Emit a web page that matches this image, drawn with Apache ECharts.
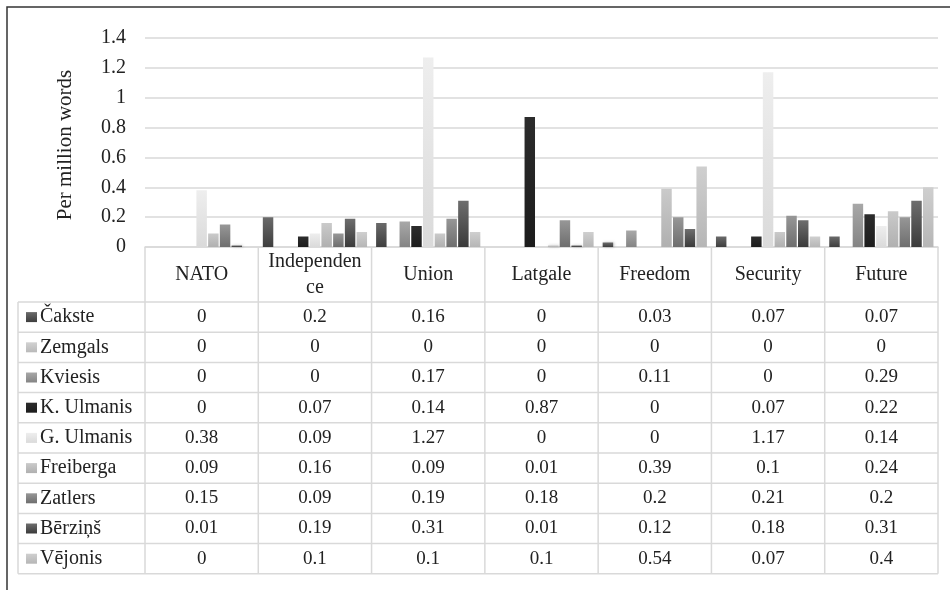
<!DOCTYPE html>
<html>
<head>
<meta charset="utf-8">
<script src="https://cdn.jsdelivr.net/npm/echarts@6/dist/echarts.min.js"></script>
<style>html,body{margin:0;padding:0;background:#fff}#c{width:950px;height:590px}</style>
</head>
<body>
<div id="c"></div>
<script>
const categories = ['NATO','Independence','Union','Latgale','Freedom','Security','Future'];
const headerLabels = ['NATO','Independen\nce','Union','Latgale','Freedom','Security','Future'];
const presidents = ['Čakste','Zemgals','Kviesis','K. Ulmanis','G. Ulmanis','Freiberga','Zatlers','Bērziņš','Vējonis'];
const cakste    = [0, 0.2, 0.16, 0, 0.03, 0.07, 0.07];
const zemgals   = [0, 0, 0, 0, 0, 0, 0];
const kviesis   = [0, 0, 0.17, 0, 0.11, 0, 0.29];
const kUlmanis  = [0, 0.07, 0.14, 0.87, 0, 0.07, 0.22];
const gUlmanis  = [0.38, 0.09, 1.27, 0, 0, 1.17, 0.14];
const freiberga = [0.09, 0.16, 0.09, 0.01, 0.39, 0.1, 0.24];
const zatlers   = [0.15, 0.09, 0.19, 0.18, 0.2, 0.21, 0.2];
const berzins   = [0.01, 0.19, 0.31, 0.01, 0.12, 0.18, 0.31];
const vejonis   = [0, 0.1, 0.1, 0.1, 0.54, 0.07, 0.4];
const seriesData = [cakste, zemgals, kviesis, kUlmanis, gUlmanis, freiberga, zatlers, berzins, vejonis];
const yTicksMax = 1.4, yTickStep = 0.2;

const palette = [
  ['#6a6a6a','#3e3e3e'],
  ['#d2d2d2','#b9b9b9'],
  ['#a8a8a8','#848484'],
  ['#2c2c2c','#1c1c1c'],
  ['#eeeeee','#dadada'],
  ['#cacaca','#b0b0b0'],
  ['#979797','#6e6e6e'],
  ['#6e6e6e','#3a3a3a'],
  ['#cfcfcf','#b6b6b6']
];
function grad(i){
  return new echarts.graphic.LinearGradient(0,0,0,1,[{offset:0,color:palette[i][0]},{offset:1,color:palette[i][1]}]);
}
const FONT = '"Liberation Serif","Times New Roman",serif';
const LINE = '#d9d9d9';

const chart = echarts.init(document.getElementById('c'), null, {renderer:'canvas'});
chart.setOption({
  animation:false,
  backgroundColor:'#fff',
  grid:{left:145, right:12, top:38, bottom:343, containLabel:false},
  xAxis:{type:'category', data:categories, axisLabel:{show:false}, axisTick:{show:false},
    axisLine:{lineStyle:{color:LINE, width:1.5}}},
  yAxis:{type:'value', min:0, max:yTicksMax, interval:yTickStep,
    axisLine:{show:false}, axisTick:{show:false},
    axisLabel:{color:'#222', fontFamily:FONT, fontSize:20, margin:19},
    splitLine:{lineStyle:{color:LINE, width:1.5}}},
  series: presidents.map((name,i)=>({
    name:name, type:'bar', data:seriesData[i],
    barGap:'12%', barCategoryGap:'8%',
    itemStyle:{color:grad(i), shadowBlur:3, shadowColor:'rgba(0,0,0,0.25)', shadowOffsetX:1, shadowOffsetY:0}
  }))
});

// Build data table beneath the axis
const x0 = chart.convertToPixel({xAxisIndex:0}, 0);
const x1 = chart.convertToPixel({xAxisIndex:0}, 1);
const band = x1 - x0;
const left = x0 - band/2;
const right = left + band*categories.length;
const yZero = chart.convertToPixel({yAxisIndex:0}, 0);
const headerBottom = yZero + 55;
const rowH = 30.2;
const tableLeft = 18;
const tableBottom = headerBottom + rowH*presidents.length;
const g = [];
// outer frame
g.push({type:'rect', shape:{x:7,y:7,width:1000,height:700}, style:{fill:null, stroke:'#333', lineWidth:1.5}, silent:true});
// y axis title
g.push({type:'text', x:65, y:145, rotation:Math.PI/2, style:{text:'Per million words', font:'21px '+FONT, fill:'#222', align:'center', verticalAlign:'middle'}});
// header vertical lines
for(let c=0;c<=categories.length;c++){
  const x = left + band*c;
  g.push({type:'line', shape:{x1:x,y1:yZero,x2:x,y2:tableBottom}, style:{stroke:LINE, lineWidth:1.5}});
}
g.push({type:'line', shape:{x1:tableLeft,y1:headerBottom,x2:tableLeft,y2:tableBottom}, style:{stroke:LINE, lineWidth:1.5}});
// horizontal lines
for(let r=0;r<=presidents.length;r++){
  const y = headerBottom + rowH*r;
  g.push({type:'line', shape:{x1:tableLeft,y1:y,x2:right,y2:y}, style:{stroke:LINE, lineWidth:1.5}});
}
// header texts
headerLabels.forEach((t,c)=>{
  g.push({type:'text', x:left+band*(c+0.5), y:(yZero+headerBottom)/2, style:{text:t, font:'20px '+FONT, fill:'#222', align:'center', verticalAlign:'middle', lineHeight:26}});
});
// rows
presidents.forEach((name,r)=>{
  const cy = headerBottom + rowH*(r+0.5);
  g.push({type:'rect', shape:{x:26,y:cy-5,width:11,height:10}, style:{fill:grad(r)}});
  g.push({type:'text', x:40, y:cy, style:{text:name, font:'20px '+FONT, fill:'#222', align:'left', verticalAlign:'middle'}});
  seriesData[r].forEach((v,c)=>{
    g.push({type:'text', x:left+band*(c+0.5), y:cy, style:{text:String(v), font:'19px '+FONT, fill:'#222', align:'center', verticalAlign:'middle'}});
  });
});
chart.setOption({graphic:g});
</script>
</body>
</html>
